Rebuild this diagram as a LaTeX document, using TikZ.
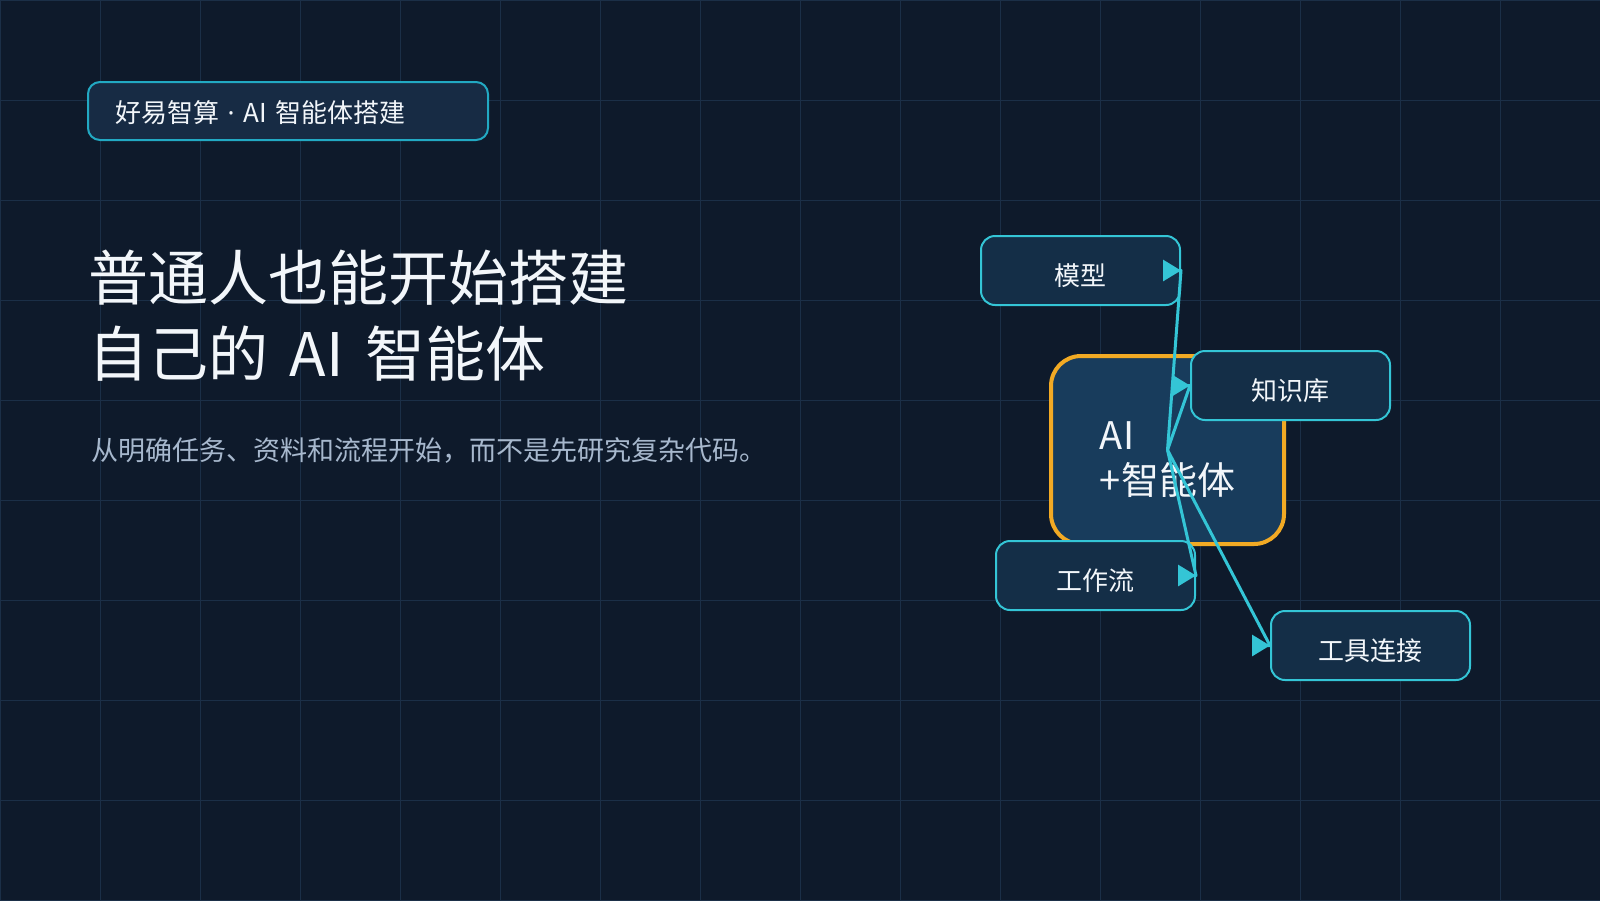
\documentclass[tikz,border=0pt]{standalone}
\usepackage{fontspec}
\setmainfont[WordSpace=1.6]{Noto Sans CJK SC}
\newfontfamily\latinsans{Noto Sans}
\usetikzlibrary{arrows.meta}

\definecolor{bgnavy}{HTML}{0E1A2B}
\definecolor{gridblue}{HTML}{1B2F47}
\definecolor{tagfill}{HTML}{172B44}
\definecolor{tagline}{HTML}{22A9C3}
\definecolor{leaffill}{HTML}{142E47}
\definecolor{cyanline}{HTML}{34C5D6}
\definecolor{corefill}{HTML}{183C5C}
\definecolor{coreline}{HTML}{F2AA24}
\definecolor{titlewhite}{HTML}{F2F6FA}
\definecolor{subgray}{HTML}{A7B8CD}

\tikzset{
  gridline/.style={gridblue,line width=1pt},
  tagbox/.style={draw=tagline,fill=tagfill,line width=2pt,rounded corners=12pt,
    minimum height=58pt,inner xsep=27pt,text width=346pt,align=left,
    text height=23pt,text depth=0pt,
    text=titlewhite,font=\fontsize{26}{30}\selectfont},
  leafbox/.style={draw=cyanline,fill=leaffill,line width=2pt,rounded corners=14pt,
    minimum width=199pt,minimum height=69pt,text=titlewhite,
    text height=30pt,text depth=0pt,
    font=\fontsize{26}{30}\selectfont},
  corebox/.style={draw=coreline,fill=corefill,line width=4pt,rounded corners=30pt,
    minimum width=233pt,minimum height=188pt,align=left,text=titlewhite,
    text height=93pt,font=\fontsize{38}{45}\selectfont},
  flow/.style={cyanline,line width=3pt,line join=round,
    -{Triangle[length=18pt,width=21pt]}}
}

\begin{document}
\begin{tikzpicture}[x=1pt,y=-1pt]
\useasboundingbox (0,0) rectangle (1600,900);
\fill[bgnavy] (0,0) rectangle (1600,900);
\foreach \gx in {0,100,...,1600} \draw[gridline] (\gx,0) -- (\gx,900);
\foreach \gy in {0,100,...,900} \draw[gridline] (0,\gy) -- (1600,\gy);

\node[tagbox] (tag) at (288,111) {好易智算 {\latinsans ·} AI 智能体搭建};
\node[anchor=north west,inner sep=0pt,align=left,text=titlewhite,
  font=\fontsize{60}{76}\selectfont] (title) at (88,250)
  {普通人也能开始搭建\\自己的 AI 智能体};
\node[anchor=base west,inner sep=0pt,text=subgray,
  font=\fontsize{27}{32}\selectfont] (lead) at (91,460)
  {从明确任务、资料和流程开始，而不是先研究复杂代码。};

\node[corebox] (agent) at (1167.5,450) {AI\\+智能体};
\node[leafbox] (model) at (1080.5,270.5) {模型};
\node[leafbox] (kb) at (1290.5,385.5) {知识库};
\node[leafbox] (wf) at (1095.5,575.5) {工作流};
\node[leafbox] (tools) at (1370.5,645.5) {工具连接};

\draw[flow] (agent.center) -- ([xshift=-0.01pt]model.east) -- (model.east);
\draw[flow] (agent.center) -- ([xshift=-0.01pt]kb.west) -- (kb.west);
\draw[flow] (agent.center) -- ([xshift=-0.01pt]wf.east) -- (wf.east);
\draw[flow] (agent.center) -- ([xshift=-0.01pt]tools.west) -- (tools.west);
\end{tikzpicture}
\end{document}
